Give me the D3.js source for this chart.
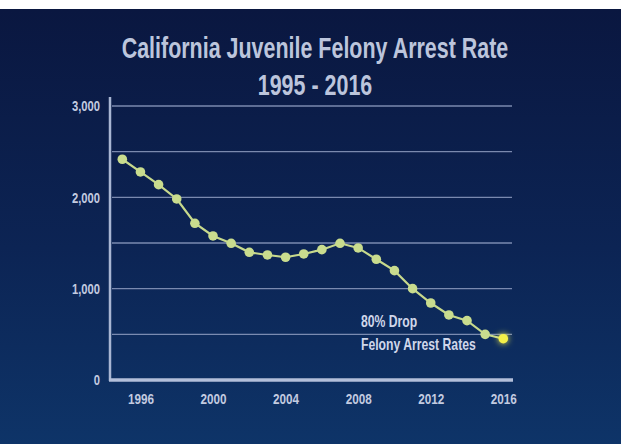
<!DOCTYPE html>
<html>
<head>
<meta charset="utf-8">
<script src="https://cdn.jsdelivr.net/npm/d3@7"></script>
<style>
  html, body { margin: 0; padding: 0; background: #ffffff; }
  svg { display: block; }
  text { font-family: "Liberation Sans", "Roboto", sans-serif; }
</style>
</head>
<body>
<svg id="chart" width="621" height="444"></svg>
<script>
const years = [1995,1996,1997,1998,1999,2000,2001,2002,2003,2004,2005,2006,2007,2008,2009,2010,2011,2012,2013,2014,2015,2016];
const rates = [2417,2278,2139,1982,1716,1577,1497,1398,1369,1344,1380,1427,1497,1446,1322,1197,1000,843,712,650,500,452];
const yTicks = [0,1000,2000,3000];
const gridValues = [500,1000,1500,2000,2500,3000];
const xTickYears = [1996,2000,2004,2008,2012,2016];
const titleLines = ["California Juvenile Felony Arrest Rate", "1995 - 2016"];
const noteLines = ["80% Drop", "Felony Arrest Rates"];

const svg = d3.select("#chart");
const W = 621, H = 444;

// squeeze text horizontally (around its anchor x) to mimic a condensed typeface
function condense(sel, ratio) {
  sel.each(function() {
    const ax = +(this.getAttribute("x") || 0);
    d3.select(this).attr("transform", `translate(${ax*(1-ratio)},0) scale(${ratio},1)`);
  });
}

const defs = svg.append("defs");
const grad = defs.append("linearGradient").attr("id","bg").attr("x1",0).attr("y1",0).attr("x2",0).attr("y2",1);
grad.append("stop").attr("offset","0%").attr("stop-color","#0a1740");
grad.append("stop").attr("offset","55%").attr("stop-color","#0c2454");
grad.append("stop").attr("offset","100%").attr("stop-color","#0e3468");
const glow = defs.append("filter").attr("id","glow").attr("x","-200%").attr("y","-200%").attr("width","500%").attr("height","500%");
glow.append("feGaussianBlur").attr("stdDeviation",3).attr("result","b");
const fm = glow.append("feMerge");
fm.append("feMergeNode").attr("in","b");
fm.append("feMergeNode").attr("in","SourceGraphic");

svg.append("rect").attr("x",0).attr("y",0).attr("width",W).attr("height",H).attr("fill","#ffffff");
svg.append("rect").attr("x",0).attr("y",9).attr("width",W).attr("height",H-9).attr("fill","url(#bg)");

const x = d3.scaleLinear().domain([1995,2016]).range([122.3,503.3]);
const y = d3.scaleLinear().domain([0,3000]).range([380,106]);

const textColor = "#c3cbe0";
const gridColor = "#8e9cc0";

// gridlines
svg.append("g").selectAll("line").data(gridValues).join("line")
  .attr("x1",112).attr("x2",512)
  .attr("y1",d=>y(d)).attr("y2",d=>y(d))
  .attr("stroke",gridColor).attr("stroke-width",1.3).attr("opacity",0.85);

// y axis
const yAxis = d3.axisLeft(y).tickValues(yTicks).tickFormat(d3.format(",")).tickSize(0).tickPadding(10);
const gy = svg.append("g").attr("transform","translate(110,0)").call(yAxis);
gy.select(".domain").remove();
gy.selectAll("text").attr("fill",textColor).attr("font-size",14).attr("font-weight","bold").attr("dy","0.35em");
condense(gy.selectAll("text"), 0.8);
svg.append("line").attr("x1",110).attr("x2",110).attr("y1",97).attr("y2",381)
  .attr("stroke","#a9b6d3").attr("stroke-width",2.5);

// x axis
const xAxis = d3.axisBottom(x).tickValues(xTickYears).tickFormat(d3.format("d")).tickSize(0).tickPadding(13);
const gx = svg.append("g").attr("transform","translate(0,380)").call(xAxis);
gx.select(".domain").remove();
gx.selectAll("text").attr("fill",textColor).attr("font-size",15).attr("font-weight","bold");
condense(gx.selectAll("text"), 0.78);
svg.append("line").attr("x1",109).attr("x2",513).attr("y1",380).attr("y2",380)
  .attr("stroke","#b3bfda").attr("stroke-width",3.5);

// line
const line = d3.line().x((d,i)=>x(years[i])).y(d=>y(d));
svg.append("path").datum(rates).attr("d",line)
  .attr("fill","none").attr("stroke","#c7d98c").attr("stroke-width",2.2);

svg.append("g").selectAll("circle").data(rates.slice(0,-1)).join("circle")
  .attr("cx",(d,i)=>x(years[i])).attr("cy",d=>y(d)).attr("r",4.8)
  .attr("fill","#c9dc8e");

const lastI = rates.length-1;
svg.append("circle").attr("cx",x(years[lastI])).attr("cy",y(rates[lastI])).attr("r",4.8)
  .attr("fill","#f4f04a").attr("filter","url(#glow)");

// note
const note = svg.append("g").selectAll("text").data(noteLines).join("text")
  .attr("x",361).attr("y",(d,i)=>327+i*23)
  .attr("fill","#d0d7ea").attr("font-size",16.5).attr("font-weight","bold")
  .text(d=>d);
condense(note, 0.74);

// title
const title = svg.append("g").selectAll("text").data(titleLines).join("text")
  .attr("x",315).attr("y",(d,i)=>58+i*37)
  .attr("text-anchor","middle")
  .attr("fill","#bcc5dc").attr("font-size",29).attr("font-weight","bold")
  .text(d=>d);
condense(title, 0.74);
</script>
</body>
</html>
